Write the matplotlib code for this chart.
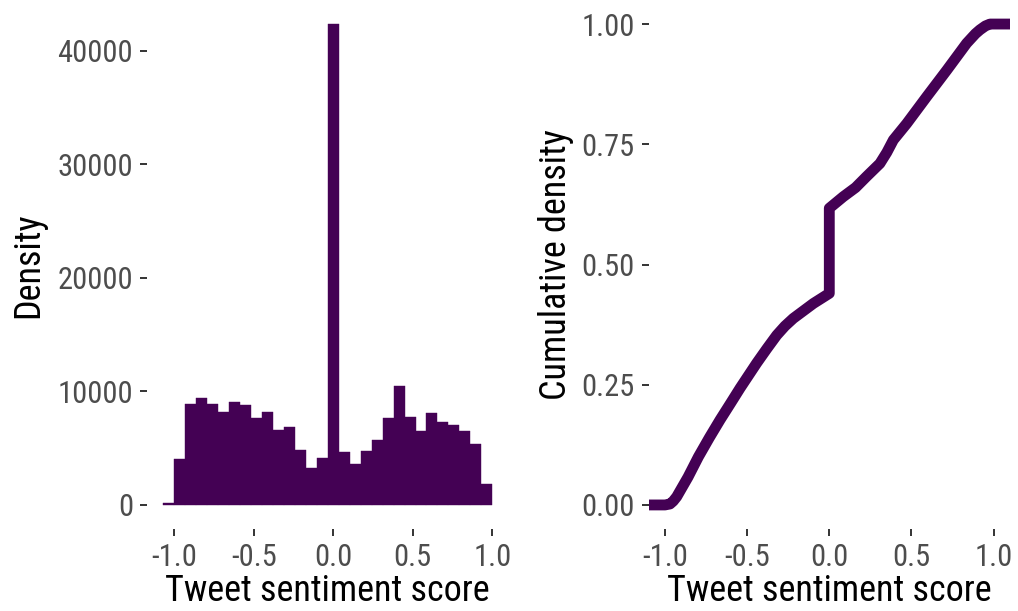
import matplotlib
matplotlib.use("Agg")
import matplotlib.pyplot as plt
import numpy as np

# ---- data ----
bin_edges_left = -1.069
bin_width = 2 / 29
hist_counts = [150, 4060, 8900, 9410, 8880, 8180, 9060, 8770, 7650, 8210,
               6620, 6830, 4850, 3210, 4090, 42340, 4680, 3590, 4770, 5710,
               7620, 10440, 7740, 6500, 8090, 7330, 7030, 6500, 5360, 1880]

ecdf_x = [-1.0, -0.97, -0.95, -0.929, -0.86, -0.797, -0.73, -0.665, -0.60, -0.543,
          -0.442, -0.380, -0.320, -0.270, -0.219, -0.160, -0.097, 0.0, 0.0,
          0.085, 0.160, 0.227, 0.308, 0.350, 0.390, 0.471, 0.593, 0.715,
          0.836, 0.890, 0.917, 0.950, 0.978, 1.0]
ecdf_y = [0.0, 0.002, 0.008, 0.017, 0.058, 0.100, 0.140, 0.177, 0.212, 0.243,
          0.295, 0.325, 0.353, 0.372, 0.388, 0.403, 0.419, 0.440, 0.617,
          0.641, 0.660, 0.683, 0.710, 0.733, 0.759, 0.793, 0.849, 0.904,
          0.960, 0.980, 0.988, 0.996, 1.0, 1.0]

x_ticks = [-1.0, -0.5, 0.0, 0.5, 1.0]
x_ticklabels = ["-1.0", "-0.5", "0.0", "0.5", "1.0"]
left_yticks = [0, 10000, 20000, 30000, 40000]
left_yticklabels = ["0", "10000", "20000", "30000", "40000"]
right_yticks = [0, 0.25, 0.5, 0.75, 1.0]
right_yticklabels = ["0.00", "0.25", "0.50", "0.75", "1.00"]

xlabel = "Tweet sentiment score"
ylabel_left = "Density"
ylabel_right = "Cumulative density"

# ---- style ----
FONT = ["Roboto Condensed", "Liberation Sans Narrow", "Roboto", "DejaVu Sans"]
plt.rcParams["font.family"] = FONT
COLOR = "#440154"
TICKCOL = "#4D4D4D"
W, H = 1018, 611
fig = plt.figure(figsize=(W / 100, H / 100), dpi=100)

def px_axes(l, r, b, t):
    return fig.add_axes([l / W, 1 - b / H, (r - l) / W, (b - t) / H])

ax1 = px_axes(147, 508.7, 529, 0)
ax2 = px_axes(648.6, 1010, 529, 0)

edges = bin_edges_left + bin_width * np.arange(len(hist_counts) + 1)
ax1.bar(edges[:-1], hist_counts, width=bin_width, align="edge",
        color=COLOR, edgecolor=COLOR, linewidth=0.3)
xr = edges[-1] - edges[0]
ax1.set_xlim(edges[0] - 0.05 * xr, edges[-1] + 0.05 * xr)
ymax = max(hist_counts)
ax1.set_ylim(-0.05 * ymax, 1.05 * ymax)

xmin2, xmax2 = -1.1, 1.1
ax2.set_xlim(xmin2, xmax2)
ax2.set_ylim(-0.05, 1.05)
ex = [xmin2] + ecdf_x + [xmax2]
ey = [0.0] + ecdf_y + [1.0]
ax2.plot(ex, ey, color=COLOR, linewidth=7.8, solid_capstyle="butt",
         solid_joinstyle="round")

for ax, yt, ytl in [(ax1, left_yticks, left_yticklabels),
                    (ax2, right_yticks, right_yticklabels)]:
    for s in ax.spines.values():
        s.set_visible(False)
    ax.set_xticks(x_ticks)
    ax.set_xticklabels(x_ticklabels)
    ax.set_yticks(yt)
    ax.set_yticklabels(ytl)
    ax.tick_params(axis="both", length=5, width=1.4, color="#333333",
                   labelcolor=TICKCOL, labelsize=22, pad=5)
    ax.grid(False)

for cx in [327.8, 829.3]:
    fig.text(cx / W, 1 - 601 / H, xlabel, ha="center", va="baseline",
             fontsize=26, color="black")
fig.text(28 / W, 1 - 265 / H, ylabel_left, rotation=90, ha="center",
         va="center", fontsize=26, color="black")
fig.text(556 / W, 1 - 265 / H, ylabel_right, rotation=90, ha="center",
         va="center", fontsize=26, color="black")

fig.savefig("out.png", dpi=100)
